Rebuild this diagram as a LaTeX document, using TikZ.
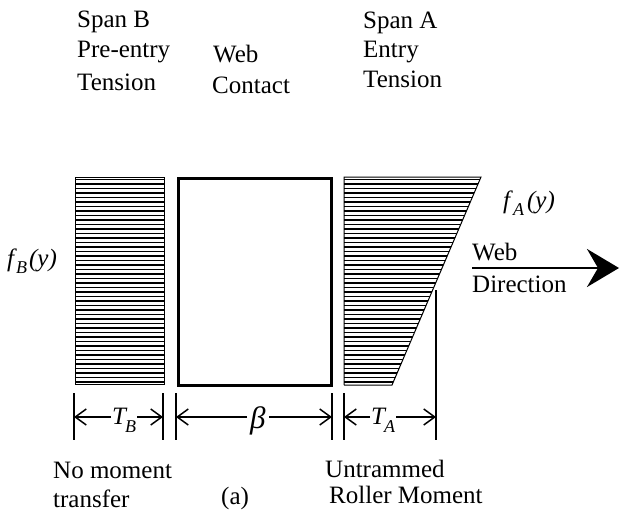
\documentclass[tikz,border=0pt]{standalone}
\usepackage{fontspec}
\setmainfont{Liberation Serif}
\usetikzlibrary{arrows.meta}

\newcommand{\subfont}{\fontsize{18}{18}\selectfont}

\begin{document}
\begin{tikzpicture}[x=1pt,y=-1pt,
  lbl/.style={font=\fontsize{25}{30}\selectfont, inner sep=0pt, anchor=base west},
  outline/.style={line width=1pt},
  hatchline/.style={line width=1.1pt},
  tick/.style={line width=1.1pt},
  dimarrow/.style={-{Straight Barb[length=11pt,width=16pt,line width=1.5pt]}, line width=1.2pt}]
\useasboundingbox (0,0) rectangle (620,516);

% headings
\node[lbl] (spanB) at (77,28) {Span B};
\node[lbl] (preentry) at (77,58) {Pre-entry};
\node[lbl] (tensionB) at (77,91) {Tension};
\node[lbl] (web) at (213,63) {Web};
\node[lbl] (contact) at (212,93) {Contact};
\node[lbl] (spanA) at (363,29) {Span A};
\node[lbl] (entry) at (363,58) {Entry};
\node[lbl] (tensionA) at (363,88) {Tension};

% span B: uniform tension, hatched rectangle
\draw[outline] (75,177) rectangle (164,384);
\foreach \y in {179.5,184,...,384} \draw[hatchline] (75,\y) -- (164,\y);

% web contact zone
\draw[line width=3pt] (178,178) rectangle (331,385);

% span A: linearly varying tension, hatched trapezoid
\begin{scope}
  \clip (344,177) -- (481,177) -- (392,385) -- (344,385) -- cycle;
  \foreach \y in {179.5,184,...,384} \draw[hatchline] (344,\y) -- (482,\y);
\end{scope}
\draw[outline] (344,385) -- (344,177) -- (481,177) -- (392,385) -- (344,385);

% stress labels
\node[lbl] (fB) at (7,266) {\itshape f\kern2pt\raisebox{-0.3em}{\subfont B}\kern2pt(y)};
\node[lbl] (fA) at (503,208) {\itshape f\kern3pt\raisebox{-0.3em}{\subfont A}\kern3pt(y)};

% web direction
\node[lbl] (webdir) at (472,260) {Web};
\node[lbl] (direction) at (472,292) {Direction};
\coordinate (dirstart) at (472,268);
\coordinate (dirend) at (619,268);
\draw[line width=2.6pt, -{Stealth[length=32pt,width=38pt,inset=11pt]}] (dirstart) -- (dirend);

% dimension extension lines
\coordinate (b1) at (74,393);  \coordinate (b1e) at (74,440);
\coordinate (b2) at (163,393); \coordinate (b2e) at (163,440);
\coordinate (c1) at (176,393); \coordinate (c1e) at (176,440);
\coordinate (c2) at (332,393); \coordinate (c2e) at (332,440);
\coordinate (a1) at (344,393); \coordinate (a1e) at (344,440);
\coordinate (a2) at (436,290); \coordinate (a2e) at (436,440);
\foreach \p in {b1,b2,c1,c2,a1,a2} \draw[tick] (\p) -- (\p e);

% dimension labels and arrows
\node[lbl, inner xsep=1pt] (TB) at (111,424) {\itshape T\kern-1pt\raisebox{-0.35em}{\subfont B}};
\node[lbl, inner xsep=3pt, font=\fontsize{31}{31}\selectfont] (beta) at (247,428) {\itshape β};
\node[lbl, inner xsep=1pt] (TA) at (370,424) {\itshape T\kern-1pt\raisebox{-0.35em}{\subfont A}};
\coordinate (TBl) at ([yshift=7pt]TB.base west);
\coordinate (TBr) at ([yshift=7pt]TB.base east);
\coordinate (betal) at ([yshift=11pt]beta.base west);
\coordinate (betar) at ([yshift=11pt]beta.base east);
\coordinate (TAl) at ([yshift=7pt]TA.base west);
\coordinate (TAr) at ([yshift=7pt]TA.base east);
\draw[dimarrow] (TBl) -- (TBl -| b1);
\draw[dimarrow] (TBr) -- (TBr -| b2);
\draw[dimarrow] (betal) -- (betal -| c1);
\draw[dimarrow] (betar) -- (betar -| c2);
\draw[dimarrow] (TAl) -- (TAl -| a1);
\draw[dimarrow] (TAr) -- (TAr -| a2);

% bottom notes
\node[lbl] (nomoment) at (53,478) {No moment};
\node[lbl] (transfer) at (53,507) {transfer};
\node[lbl] (figa) at (221,504) {(a)};
\node[lbl] (untrammed) at (325,477) {Untrammed};
\node[lbl] (roller) at (329,503) {Roller Moment};
\end{tikzpicture}
\end{document}
